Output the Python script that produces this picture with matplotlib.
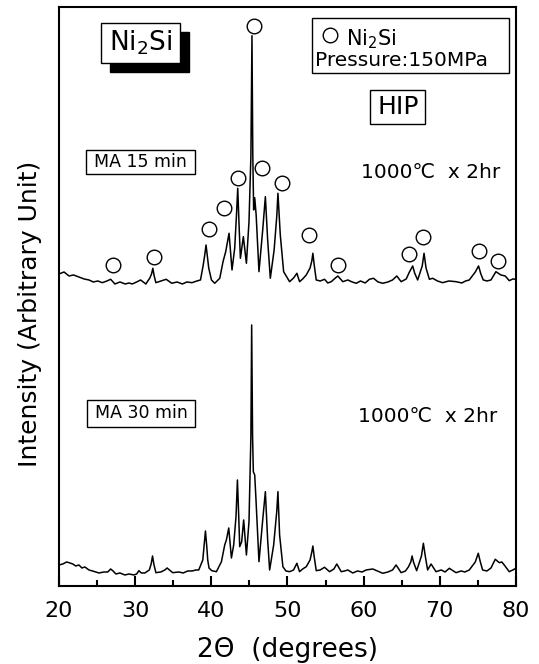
import numpy as np
import matplotlib
matplotlib.use('Agg')
import matplotlib.pyplot as plt
from matplotlib.patches import Rectangle

plt.rcParams['font.family'] = ['DejaVu Sans']
plt.rcParams['mathtext.fontset'] = 'dejavusans'

# MA 30 min trace (lower), 2theta and intensity
tt_30 = [20.0, 20.5, 21.0, 21.31, 21.8, 22.2, 22.62, 23.0, 23.4, 23.93, 24.4, 24.8, 25.24,
         25.9, 26.4, 26.78, 27.1, 27.47, 28.0, 28.65, 29.2, 29.83, 30.2, 30.49, 30.8, 31.27,
         31.86, 32.1, 32.28, 32.45, 32.72, 33.37, 33.9, 34.2, 34.5, 34.94, 35.73, 36.3, 36.9,
         37.47, 38.0, 38.35, 38.88, 39.05, 39.23, 39.4, 39.53, 39.7, 40.06, 40.67, 41.33, 41.76,
         41.98, 42.29, 42.64, 42.94, 43.25, 43.43, 43.6, 43.73, 43.99, 44.25, 44.61, 44.95, 45.2,
         45.3, 45.42, 45.52, 45.7, 45.87, 46.26, 46.75, 47.1, 47.4, 47.66, 48.19, 48.6, 48.75,
         48.97, 49.4, 49.8, 50.28, 50.8, 51.24, 51.59, 52.0, 52.47, 52.97, 53.2, 53.34, 53.5,
         53.78, 54.3, 54.87, 55.53, 56.1, 56.48, 57.06, 57.5, 57.93, 58.58, 59.2, 59.8, 60.34,
         61.2, 61.8, 62.52, 63.2, 63.8, 64.27, 64.93, 65.5, 65.88, 66.2, 66.37, 66.55, 66.97,
         67.6, 67.85, 68.1, 68.41, 68.86, 69.51, 70.2, 70.7, 71.26, 72.14, 72.8, 73.3, 73.88,
         74.67, 75.06, 75.3, 75.63, 76.2, 76.73, 77.29, 77.82, 78.15, 78.47, 79.13, 79.6, 80.0]
int_30 = [21, 22, 24, 23.3, 22, 20, 21, 18, 19, 16, 15, 14, 13,
          14, 14, 17, 15, 12, 13, 11, 12, 11, 12, 15.3, 13, 13,
          16, 22, 30, 22, 13.3, 14, 16, 18, 16, 13.3, 14, 13, 15,
          15, 16, 16, 26, 40, 55, 40, 26, 18, 15.3, 14.3, 24.3, 41,
          46, 58, 28, 41, 70, 106, 70, 39.3, 44.3, 66, 31, 64.3, 150,
          261, 150, 114.3, 111, 86, 24.3, 66, 94.3, 46, 16, 41, 75, 94.3,
          51, 19.3, 15, 14.3, 16, 22.7, 14.3, 17, 19.3, 26, 34, 40, 30,
          15.3, 16, 18.7, 14.3, 17, 22, 14.3, 15, 16, 13, 15, 14, 16,
          17, 15, 12.7, 14, 16, 21, 13.3, 15, 19, 24, 30, 24, 15.3,
          30, 42.7, 30, 16, 22, 14.3, 16, 14, 17.7, 13.3, 15, 14, 16,
          24, 32.7, 25, 16, 15, 18, 26.7, 23.3, 24, 21, 14.3, 16, 17.7]

# MA 15 min trace (upper)
tt_15 = [20.0, 20.66, 21.31, 21.9, 22.62, 23.3, 23.93, 24.5, 25.1, 25.68, 26.3, 26.78, 27.34,
         28.0, 28.7, 29.2, 29.61, 30.2, 30.71, 31.4, 31.93, 32.15, 32.32, 32.5, 32.72, 33.4,
         34.07, 34.81, 35.5, 36.2, 36.8, 37.47, 38.1, 38.58, 38.94, 39.12, 39.31, 39.48, 39.66,
         40.02, 40.45, 41.11, 41.54, 41.89, 42.33, 42.72, 43.07, 43.3, 43.47, 43.65, 43.82, 44.21,
         44.61, 44.95, 45.2, 45.34, 45.45, 45.56, 45.7, 45.89, 46.26, 46.75, 47.1, 47.4, 47.75,
         48.25, 48.6, 48.75, 49.06, 49.5, 50.28, 50.81, 51.24, 51.59, 52.0, 52.47, 52.97, 53.2,
         53.34, 53.5, 53.78, 54.3, 54.87, 55.3, 55.75, 56.3, 56.62, 57.27, 57.93, 58.5, 59.03,
         59.6, 60.2, 60.77, 61.3, 61.9, 62.52, 63.2, 63.8, 64.36, 64.93, 65.6, 66.02, 66.45,
         66.7, 67.1, 67.7, 67.94, 68.2, 68.64, 69.07, 69.7, 70.38, 71.2, 72.14, 72.9, 73.4,
         73.88, 74.67, 75.1, 75.4, 75.72, 76.2, 76.73, 77.38, 78.03, 78.6, 79.13, 79.6, 80.0]
int_15 = [312, 314, 310, 311, 309, 307, 306, 304, 305, 303.3, 305, 306.7, 302,
          304, 302, 303, 302, 304, 306, 302, 308, 312, 317.7, 310, 303.3, 305,
          306.7, 302.7, 304, 302, 304, 303.3, 305, 306, 321, 330, 341, 330, 318,
          306, 302.7, 307.7, 324.3, 334.3, 352.7, 316, 337.7, 370, 397.7, 360, 327.7, 349.3,
          322.7, 364.3, 430, 550.3, 430, 376, 388.3, 371, 314.3, 356, 389.3, 346, 307.7,
          336, 370, 392.7, 351, 314.3, 304.3, 308, 312.7, 304.3, 307, 311, 318, 325,
          332.7, 322, 306, 305, 306.7, 303, 304.3, 308, 310, 304.3, 306, 304, 302.7,
          305, 303, 306.7, 307.7, 304, 302.7, 304, 306, 310, 304.3, 307, 314, 320,
          313, 306, 320, 332.7, 318, 306.7, 307.7, 305, 303.3, 305, 304.3, 303, 305,
          306, 314, 320, 312, 306, 305, 306, 314.3, 311, 310, 305.3, 307, 306.7]

# Ni2Si peak markers
mark_tt = [27.1, 32.45, 39.66, 41.67, 43.5, 45.56, 46.6, 49.27, 52.8, 56.67, 65.93, 67.8, 75.14, 77.7]
mark_int = [321, 329.3, 356.7, 378.3, 408.3, 560.3, 417.7, 403.3, 350.7, 321, 332, 349.3, 335.3, 325]

fig = plt.figure(figsize=(5.39, 6.64), dpi=100)
ax = fig.add_axes([0.1095, 0.1175, 0.8476, 0.872])

ax.plot(tt_30, int_30, color='black', lw=1.1)
ax.plot(tt_15, int_15, color='black', lw=1.1)
ax.plot(mark_tt, mark_int, 'o', ms=10.5, mfc='white', mec='black', mew=1.0, ls='none')

ax.set_xlim(20, 80)
ax.set_ylim(0, 579)
ax.set_xticks(np.arange(20, 81, 10))
ax.set_xticks(np.arange(25, 80, 10), minor=True)
ax.set_yticks([])
ax.tick_params(axis='x', which='major', direction='in', length=7, width=1.5, labelsize=16, pad=11)
ax.tick_params(axis='x', which='minor', direction='in', length=4, width=1.5)
for s in ax.spines.values():
    s.set_linewidth(1.5)
ax.set_xlabel('2\u0398  (degrees)', fontsize=19, labelpad=11)
ax.set_ylabel('Intensity (Arbitrary Unit)', fontsize=18)
ax.yaxis.set_label_coords(-0.038, 0.47)

# Ni2Si box with shadow
ax.add_patch(Rectangle((26.64, 514.3), 10.49, 39.4, fc='black', ec='black', zorder=3))
ax.add_patch(Rectangle((25.46, 523.3), 10.49, 39.4, fc='white', ec='black', lw=1, zorder=4))
ax.text(30.7, 543, r'Ni$_\mathregular{2}$Si', fontsize=19, ha='center', va='center', zorder=5)

# legend box
ax.add_patch(Rectangle((53.21, 513.3), 25.83, 54.4, fc='none', ec='black', lw=1))
ax.plot([55.53], [551], 'o', ms=10.5, mfc='white', mec='black', mew=1.0)
ax.text(57.7, 547, r'Ni$_\mathregular{2}$Si', fontsize=15, ha='left', va='center')
ax.text(53.67, 525, 'Pressure:150MPa', fontsize=14.5, ha='left', va='center')

# HIP
ax.add_patch(Rectangle((60.9, 462), 7.17, 34, fc='none', ec='black', lw=1))
ax.text(64.5, 479, 'HIP', fontsize=18, ha='center', va='center')

ax.add_patch(Rectangle((23.54, 411.7), 14.38, 24.3, fc='none', ec='black', lw=1))
ax.text(30.73, 424, 'MA 15 min', fontsize=12.5, ha='center', va='center')
ax.text(59.68, 413.3, '1000\u2103  x 2hr', fontsize=14.5, ha='left', va='center')

ax.add_patch(Rectangle((23.71, 159.3), 14.12, 26.7, fc='none', ec='black', lw=1))
ax.text(30.77, 172.7, 'MA 30 min', fontsize=12.5, ha='center', va='center')
ax.text(59.2, 169.3, '1000\u2103  x 2hr', fontsize=14.5, ha='left', va='center')

plt.savefig('out.png', dpi=100)
